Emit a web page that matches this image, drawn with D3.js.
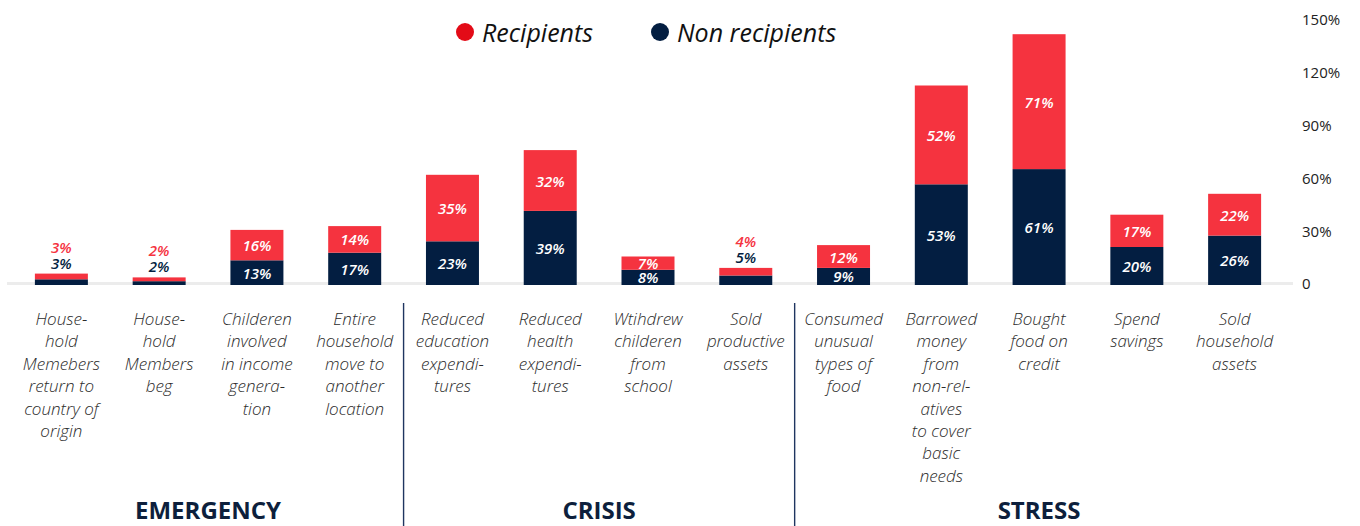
<!DOCTYPE html>
<html>
  <head>
    <meta charset="utf-8">
    <title>Coping strategies</title>
    <script src="https://d3js.org/d3.v7.min.js" charset="utf-8"></script>
    <style media="screen">
      html, body {
        margin: 0;
        padding: 0;
        background: #ffffff;
      }
      body {
        font-family: "Open Sans", "Noto Sans", Arial, sans-serif;
      }
      svg {
        display: block;
      }
    </style>
  </head>
  <body>
    <div id="chart"></div>
    <script type="text/javascript">
      // data
      var categories = [
        ["House-", "hold", "Memebers", "return to", "country of", "origin"],
        ["House-", "hold", "Members", "beg"],
        ["Childeren", "involved", "in income", "genera-", "tion"],
        ["Entire", "household", "move to", "another", "location"],
        ["Reduced", "education", "expendi-", "tures"],
        ["Reduced", "health", "expendi-", "tures"],
        ["Wtihdrew", "childeren", "from", "school"],
        ["Sold", "productive", "assets"],
        ["Consumed", "unusual", "types of", "food"],
        ["Barrowed", "money", "from", "non-rel-", "atives", "to cover", "basic", "needs"],
        ["Bought", "food on", "credit"],
        ["Spend", "savings"],
        ["Sold", "household", "assets"]
      ];
      var recipients    = [3, 2, 16, 14, 35, 32, 7, 4, 12, 52, 71, 17, 22];
      var nonRecipients = [3, 2, 13, 17, 23, 39, 8, 5, 9, 53, 61, 20, 26];
      var groupNames = ["EMERGENCY", "CRISIS", "STRESS"];
      var groupSizes = [4, 4, 5];
      var tickValues = [0, 30, 60, 90, 120, 150];
      var seriesNames = ["Recipients", "Non recipients"];

      // look
      var width = 1360;
      var height = 526;
      var baseY = 285;
      var red = "#f5333f";
      var navy = "#031e41";
      var legendRed = "#e30b17";

      var svg = d3.select("#chart")
                  .append("svg")
                  .attr("width", width)
                  .attr("height", height);

      var idx = d3.range(categories.length);

      var x = d3.scaleBand()
                .domain(idx)
                .range([12.5, 1283.5])
                .paddingInner(0.458)
                .paddingOuter(0.229);
      var gap = x.step() * x.paddingInner();

      // bars are drawn a bit taller than the tick labels suggest, as in the source
      var y = d3.scaleLinear()
                .domain([0, 150])
                .range([baseY, 0]);
      var yTick = d3.scaleLinear()
                .domain([0, 150])
                .range([284, 20]);

      // baseline
      svg.append("line")
          .attr("x1", 7)
          .attr("x2", 1293)
          .attr("y1", baseY - 1.5)
          .attr("y2", baseY - 1.5)
          .attr("stroke", "#ececec")
          .attr("stroke-width", 3);

      // stacked bars
      var table = idx.map(function(i) {
        return { i: i, non: nonRecipients[i], rec: recipients[i] };
      });
      var stack = d3.stack().keys(["non", "rec"])(table);
      var colors = { non: navy, rec: red };

      svg.append("g")
          .selectAll("g")
          .data(stack)
          .enter()
            .append("g")
            .attr("fill", function(s) { return colors[s.key]; })
            .selectAll("rect")
            .data(function(s) { return s; })
            .enter()
              .append("rect")
              .attr("x", function(d) { return x(d.data.i); })
              .attr("width", x.bandwidth())
              .attr("y", function(d) { return y(d[1]); })
              .attr("height", function(d) { return y(d[0]) - y(d[1]); });

      // value labels
      var labels = svg.append("g")
                      .attr("font-size", "15px")
                      .attr("font-weight", 600)
                      .attr("font-style", "italic")
                      .attr("text-anchor", "middle")
                      .attr("dominant-baseline", "central");

      table.forEach(function(d) {
        var cx = x(d.i) + x.bandwidth() / 2;
        var top = y(d.non + d.rec);
        if (d.non + d.rec < 10) {
          // tiny bars: both labels sit above the bar
          labels.append("text")
                .attr("x", cx).attr("y", top - 27)
                .attr("fill", red)
                .text(d.rec + "%");
          labels.append("text")
                .attr("x", cx).attr("y", top - 11)
                .attr("fill", navy)
                .text(d.non + "%");
        } else {
          labels.append("text")
                .attr("x", cx).attr("y", (y(d.non) + top) / 2)
                .attr("fill", "#ffffff")
                .text(d.rec + "%");
          labels.append("text")
                .attr("x", cx).attr("y", Math.min((y(0) + y(d.non)) / 2, baseY - 7))
                .attr("fill", "#ffffff")
                .text(d.non + "%");
        }
      });

      // right axis
      var axis = svg.append("g")
                    .attr("transform", "translate(1302,0)")
                    .call(d3.axisRight(yTick)
                            .tickValues(tickValues)
                            .tickSize(0)
                            .tickPadding(0)
                            .tickFormat(function(d) { return d === 0 ? "0" : d + "%"; }));
      axis.select(".domain").remove();
      axis.selectAll("text")
          .attr("font-family", "'Open Sans', sans-serif")
          .attr("font-size", "15px")
          .attr("fill", "#222222");

      // category labels
      var cat = svg.append("g")
                   .attr("font-size", "17px")
                   .attr("font-weight", 300)
                   .attr("font-style", "italic")
                   .attr("fill", "#2b2b2b")
                   .attr("text-anchor", "middle");
      categories.forEach(function(lines, i) {
        var t = cat.append("text")
                   .attr("x", x(i) + x.bandwidth() / 2)
                   .attr("y", 325);
        t.selectAll("tspan")
          .data(lines)
          .enter()
            .append("tspan")
            .attr("x", x(i) + x.bandwidth() / 2)
            .attr("dy", function(l, j) { return j === 0 ? 0 : 22.4; })
            .text(function(l) { return l; });
      });

      // groups and separators
      var start = 0;
      groupNames.forEach(function(name, g) {
        var first = start, last = start + groupSizes[g] - 1;
        var x0 = x(first) - gap / 2;
        var x1 = x(last) + x.bandwidth() + gap / 2;
        svg.append("text")
            .attr("x", (x0 + x1) / 2)
            .attr("y", 519)
            .attr("text-anchor", "middle")
            .attr("font-size", "24px")
            .attr("font-weight", 700)
            .attr("fill", "#0d1f3c")
            .text(name);
        if (g > 0) {
          svg.append("line")
              .attr("x1", x0).attr("x2", x0)
              .attr("y1", 303).attr("y2", height)
              .attr("stroke", "#1f3560")
              .attr("stroke-width", 1.4);
        }
        start += groupSizes[g];
      });

      // legend
      var legendX = [465, 660];
      var legendColors = [legendRed, navy];
      var legend = svg.append("g");
      seriesNames.forEach(function(name, i) {
        legend.append("circle")
              .attr("cx", legendX[i])
              .attr("cy", 32)
              .attr("r", 9)
              .attr("fill", legendColors[i]);
        legend.append("text")
              .attr("x", legendX[i] + 17)
              .attr("y", 42)
              .attr("font-size", "25px")
              .attr("font-style", "italic")
              .attr("fill", "#111111")
              .text(name);
      });
    </script>
  </body>
</html>
